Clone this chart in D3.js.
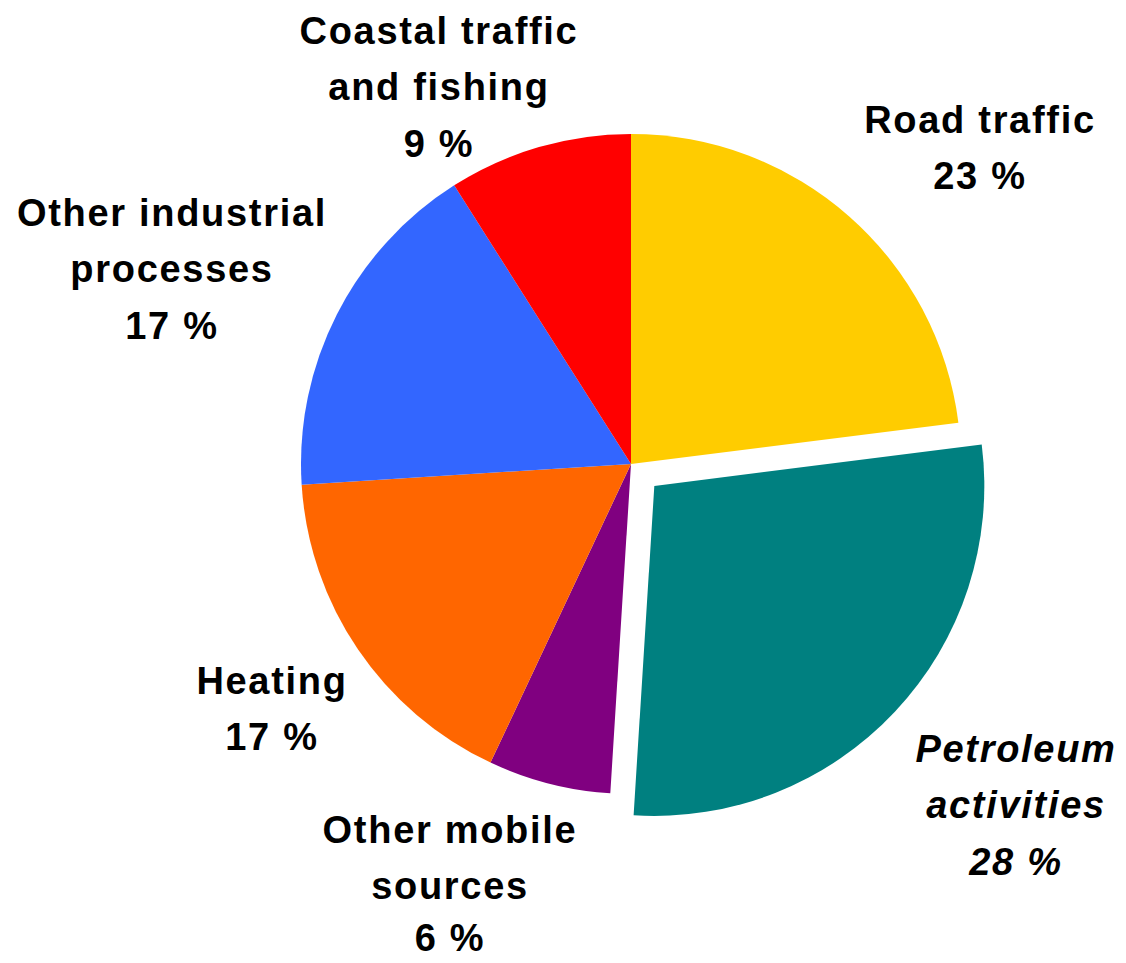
<!DOCTYPE html>
<html>
<head>
<meta charset="utf-8">
<script src="https://cdn.jsdelivr.net/npm/d3@7"></script>
<style>
  html, body { margin: 0; padding: 0; background: #fff; }
  svg { display: block; }
  text { font-family: "Liberation Sans", Arial, sans-serif; font-weight: bold; font-size: 38px; letter-spacing: 1.7px; fill: #000; }
</style>
</head>
<body>
<svg id="chart" width="1126" height="963"></svg>
<script>
// ---- data ----
const categories = ["Road traffic", "Petroleum activities", "Other mobile sources", "Heating", "Other industrial processes", "Coastal traffic and fishing"];
const values = [23, 28, 6, 17, 17, 9];
const colors = ["#FFCC00", "#008080", "#800080", "#FF6600", "#3366FF", "#FF0000"];
const labelLines = [
  ["Road traffic", "23 %"],
  ["Petroleum", "activities", "28 %"],
  ["Other mobile", "sources", "6 %"],
  ["Heating", "17 %"],
  ["Other industrial", "processes", "17 %"],
  ["Coastal traffic", "and fishing", "9 %"]
];
const exploded = [false, true, false, false, false, false];
const italic = [false, true, false, false, false, false];

// ---- layout ----
const cx = 631, cy = 464, radius = 330, explodeOffset = 32, lineHeight = 56.5;
// label block centres (first line centre) in chart coordinates
const labelAnchors = [
  [980, 119], [1016, 748], [450, 829], [272, 680], [172, 212], [439, 30]
];

const svg = d3.select("#chart");
const g = svg.append("g").attr("transform", `translate(${cx},${cy})`);

const pie = d3.pie().sort(null).value(d => d.value);
const arc = d3.arc().innerRadius(0).outerRadius(radius);

const data = categories.map((c, i) => ({ name: c, value: values[i], i }));
const arcs = pie(data);

g.selectAll("path.slice")
  .data(arcs)
  .join("path")
  .attr("class", "slice")
  .attr("fill", d => colors[d.data.i])
  .attr("transform", d => {
    if (!exploded[d.data.i]) return null;
    const a = (d.startAngle + d.endAngle) / 2;
    return `translate(${explodeOffset * Math.sin(a)},${-explodeOffset * Math.cos(a)})`;
  })
  .attr("d", arc);

const labels = svg.selectAll("text.label")
  .data(arcs)
  .join("text")
  .attr("class", "label")
  .attr("text-anchor", "middle")
  .attr("font-style", d => italic[d.data.i] ? "italic" : "normal");

labels.each(function(d) {
  const [lx, ly] = labelAnchors[d.data.i];
  const n = labelLines[d.data.i].length;
  d3.select(this).selectAll("tspan")
    .data(labelLines[d.data.i])
    .join("tspan")
    .attr("x", lx)
    .attr("y", (t, k) => ly + k * (d.data.i === 2 && k === n - 1 ? lineHeight - 2.5 : lineHeight))
    .attr("dy", "0.36em")
    .text(t => t);
});
</script>
</body>
</html>
